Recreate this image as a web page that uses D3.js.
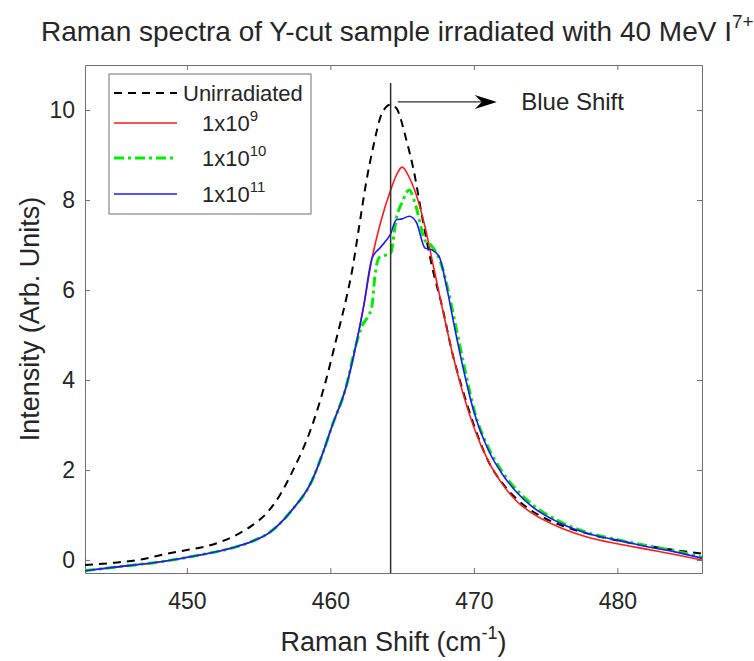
<!DOCTYPE html>
<html>
<head>
<meta charset="utf-8">
<script src="https://cdn.jsdelivr.net/npm/d3@7"></script>
<style>
  body { margin: 0; background: #fff; }
  text { font-family: "Liberation Sans", Arial, sans-serif; fill: #262626; }
</style>
</head>
<body>
<div id="chart"></div>
<script>
// ---------- data ----------
const xTicks = [450, 460, 470, 480];
const yTicks = [0, 2, 4, 6, 8, 10];

// Raman shift (cm^-1), intensity (arb. units)
const unirradiated = [
  [442.9, -0.11], [445.0, -0.06], [447.0, 0.02], [448.2, 0.11], [450.0, 0.22],
  [451.2, 0.29], [452.5, 0.42], [453.6, 0.58], [454.6, 0.78], [455.5, 1.02],
  [456.5, 1.45], [457.3, 1.93], [458.7, 2.96], [459.7, 4.00], [460.4, 4.89],
  [461.1, 5.80], [461.5, 6.40], [462.0, 7.40], [462.5, 8.40], [463.0, 9.20],
  [463.6, 9.93], [464.2, 10.12], [464.6, 10.04], [465.3, 9.33], [465.8, 8.67],
  [466.4, 7.62], [467.1, 6.50], [467.8, 5.62], [468.5, 4.60], [469.2, 3.80],
  [470.0, 3.00], [471.0, 2.20], [472.0, 1.70], [473.0, 1.35], [474.0, 1.10],
  [476.0, 0.78], [478.0, 0.58], [480.0, 0.43], [482.0, 0.32], [484.0, 0.22],
  [485.9, 0.14]
];

const dose1e9 = [
  [442.9, -0.24], [445.0, -0.16], [448.2, -0.04], [450.9, 0.11], [453.2, 0.27],
  [454.6, 0.42], [455.8, 0.62], [457.3, 1.10], [458.7, 1.75], [459.5, 2.40],
  [460.1, 2.96], [461.1, 3.85], [461.8, 4.80], [462.3, 5.60], [462.9, 6.70],
  [463.5, 7.50], [464.2, 8.22], [464.6, 8.55], [465.0, 8.73], [465.5, 8.50],
  [466.0, 8.10], [466.6, 7.40], [467.2, 6.50], [467.8, 5.60], [468.5, 4.60],
  [469.2, 3.75], [470.0, 2.95], [471.0, 2.20], [472.0, 1.68], [473.0, 1.30],
  [474.0, 1.05], [476.0, 0.72], [478.0, 0.50], [480.0, 0.36], [482.0, 0.24],
  [484.0, 0.12], [485.9, 0.00]
];

const dose1e10 = [
  [442.9, -0.24], [445.0, -0.16], [448.2, -0.04], [450.9, 0.11], [453.2, 0.27],
  [454.6, 0.42], [455.8, 0.62], [457.3, 1.10], [458.7, 1.75], [459.5, 2.40],
  [460.1, 2.96], [461.1, 3.85], [461.8, 4.80], [462.2, 5.20], [462.6, 5.40],
  [462.9, 5.65], [463.1, 6.30], [463.4, 6.72], [464.2, 6.82], [464.6, 7.60],
  [465.0, 7.95], [465.5, 8.22], [465.9, 7.93], [466.6, 7.10], [467.0, 7.00],
  [467.8, 6.50], [468.2, 6.00], [468.8, 5.10], [469.4, 4.20], [470.0, 3.35],
  [471.0, 2.50], [472.0, 1.95], [473.0, 1.55], [474.0, 1.25], [476.0, 0.85],
  [478.0, 0.60], [480.0, 0.45], [482.0, 0.32], [484.0, 0.20], [485.9, 0.06]
];

const dose1e11 = [
  [442.9, -0.24], [445.0, -0.16], [448.2, -0.04], [450.9, 0.11], [453.2, 0.27],
  [454.6, 0.42], [455.8, 0.62], [457.3, 1.10], [458.7, 1.75], [459.5, 2.40],
  [460.1, 2.96], [461.1, 3.85], [461.8, 4.80], [462.3, 5.60], [462.9, 6.70],
  [463.5, 6.95], [464.2, 7.25], [464.6, 7.56], [465.0, 7.58], [465.5, 7.64],
  [466.0, 7.50], [466.6, 6.93], [467.1, 6.89], [467.6, 6.73], [468.1, 6.07],
  [468.7, 5.10], [469.3, 4.20], [470.0, 3.30], [471.0, 2.45], [472.0, 1.90],
  [473.0, 1.50], [474.0, 1.20], [476.0, 0.82], [478.0, 0.58], [480.0, 0.44],
  [482.0, 0.30], [484.0, 0.18], [485.9, 0.04]
];

const seriesNames = ['Unirradiated', '1x10', '1x10', '1x10'];
const seriesExps = ['', '9', '10', '11'];
const peakShift = 464.2;     // vertical marker
const arrowFrom = 464.7, arrowTo = 471.6, arrowLevel = 10.18;

// ---------- layout ----------
const W = 754, H = 661;
const plot = { left: 85, right: 702, top: 65, bottom: 573 };

const svg = d3.select('#chart').append('svg')
  .attr('width', W).attr('height', H);

const x = d3.scaleLinear().domain([442.9, 485.9]).range([plot.left, plot.right]);
const y = d3.scaleLinear().domain([-0.29, 11]).range([plot.bottom, plot.top]);

svg.append('defs').append('clipPath').attr('id', 'clip')
  .append('rect')
  .attr('x', plot.left).attr('y', plot.top)
  .attr('width', plot.right - plot.left).attr('height', plot.bottom - plot.top);

// ---------- axes (MATLAB style box, ticks inside) ----------
const axisColor = '#707070';
function styleAxis(g) {
  g.selectAll('path, line').attr('stroke', axisColor);
  g.selectAll('text').attr('fill', '#262626')
    .style('font-family', '"Liberation Sans", Arial, sans-serif')
    .style('font-size', '23px');
}

svg.append('g').attr('transform', `translate(0,${plot.bottom})`)
  .call(d3.axisBottom(x).tickValues(xTicks).tickSizeInner(-5).tickSizeOuter(0).tickPadding(20))
  .call(styleAxis);
svg.append('g').attr('transform', `translate(0,${plot.top})`)
  .call(d3.axisTop(x).tickValues(xTicks).tickSizeInner(-5).tickSizeOuter(0).tickFormat(''))
  .call(styleAxis);
svg.append('g').attr('transform', `translate(${plot.left},0)`)
  .call(d3.axisLeft(y).tickValues(yTicks).tickSizeInner(-5).tickSizeOuter(0).tickPadding(10))
  .call(styleAxis);
svg.append('g').attr('transform', `translate(${plot.right},0)`)
  .call(d3.axisRight(y).tickValues(yTicks).tickSizeInner(-5).tickSizeOuter(0).tickFormat(''))
  .call(styleAxis);

// ---------- curves ----------
const line = d3.line().x(d => x(d[0])).y(d => y(d[1])).curve(d3.curveMonotoneX);
const styles = [
  { data: unirradiated, color: '#000000', width: 2, dash: '8,6' },
  { data: dose1e9, color: '#ff1a1a', width: 1.6, dash: null },
  { data: dose1e10, color: '#00ee00', width: 3, dash: '10,4,3,4' },
  { data: dose1e11, color: '#1a1aff', width: 1.6, dash: null }
];

const curves = svg.append('g').attr('clip-path', 'url(#clip)');
// draw order: black, red, green, blue
curves.selectAll('path')
  .data(styles)
  .join('path')
  .attr('d', d => line(d.data))
  .attr('fill', 'none')
  .attr('stroke', d => d.color)
  .attr('stroke-width', d => d.width)
  .attr('stroke-dasharray', d => d.dash);

// ---------- blue shift marker ----------
svg.append('line')
  .attr('x1', x(peakShift)).attr('x2', x(peakShift))
  .attr('y1', y(10.6)).attr('y2', plot.bottom)
  .attr('stroke', '#303030').attr('stroke-width', 1.5);

const ax1 = x(arrowFrom), ax2 = x(arrowTo), ay = y(arrowLevel);
svg.append('line')
  .attr('x1', ax1).attr('x2', ax2 - 10).attr('y1', ay).attr('y2', ay)
  .attr('stroke', '#303030').attr('stroke-width', 1.3);
svg.append('path')
  .attr('d', `M${ax2},${ay} L${ax2 - 22},${ay - 7} L${ax2 - 15},${ay} L${ax2 - 22},${ay + 7} Z`)
  .attr('fill', '#000');

svg.append('text')
  .attr('x', x(473.3)).attr('y', ay + 8)
  .style('font-size', '24px')
  .text('Blue Shift');

// ---------- legend ----------
const legend = svg.append('g');
legend.append('rect')
  .attr('x', 109).attr('y', 74).attr('width', 202).attr('height', 140)
  .attr('fill', '#fff').attr('stroke', axisColor).attr('stroke-width', 1);

const rowY = [93, 123, 158, 194];
const textX = [183, 202, 202, 202];
styles.forEach((s, i) => {
  legend.append('line')
    .attr('x1', 114).attr('x2', 177).attr('y1', rowY[i]).attr('y2', rowY[i])
    .attr('stroke', s.color).attr('stroke-width', s.width)
    .attr('stroke-dasharray', s.dash);
  const t = legend.append('text')
    .attr('x', textX[i]).attr('y', rowY[i] + 8)
    .style('font-size', '22px')
    .text(seriesNames[i]);
  if (seriesExps[i]) {
    t.append('tspan').attr('dy', -10).style('font-size', '15px').text(seriesExps[i]);
  }
});

// ---------- titles ----------
const title = svg.append('text')
  .attr('x', 41).attr('y', 41)
  .style('font-size', '28px')
  .text('Raman spectra of Y-cut sample irradiated with 40 MeV I');
title.append('tspan').attr('dy', -13).style('font-size', '19px').text('7+');

const xl = svg.append('text')
  .attr('x', (plot.left + plot.right) / 2).attr('y', 651)
  .attr('text-anchor', 'middle')
  .style('font-size', '27px')
  .text('Raman Shift (cm');
xl.append('tspan').attr('dy', -12).style('font-size', '18px').text('-1');
xl.append('tspan').attr('dy', 12).style('font-size', '27px').text(')');

svg.append('text')
  .attr('transform', `translate(39,${(plot.top + plot.bottom) / 2}) rotate(-90)`)
  .attr('text-anchor', 'middle')
  .style('font-size', '27px')
  .text('Intensity (Arb. Units)');
</script>
</body>
</html>
